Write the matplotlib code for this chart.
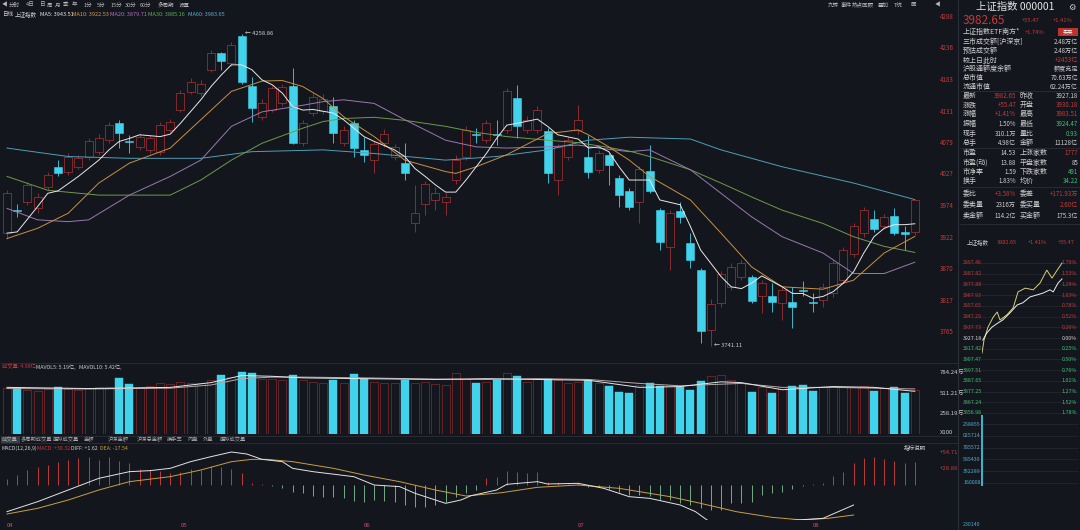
import matplotlib
matplotlib.use("Agg")
import matplotlib.pyplot as plt

plt.rcParams['font.family'] = ['Noto Sans CJK SC', 'DejaVu Sans']

W, H = 1080, 530
BG = '#13161d'
RED = '#c23b3b'
CRED = '#a03032'
CYAN = '#41d3ec'
GREEN = '#3cc070'
TXT = '#cfcfcf'
LINE = '#2a2e37'

# ---- daily candles (index, 90 trading days) ----
opens = [3928, 3967, 3980, 3969, 4005, 4038, 4030, 4038, 4055, 4063,
         4082, 4110, 4081, 4071, 4066, 4063, 4099, 4132, 4162, 4160,
         4199, 4227, 4210, 4255, 4172, 4121, 4132, 4143, 4172, 4077,
         4127, 4130, 4138, 4077, 4110, 4066, 4050, 4077, 4055, 4044,
         3944, 3977, 3983, 3980, 4016, 4055, 4093, 4082, 4092, 4099,
         4152, 4099, 4099, 4097, 4016, 4055, 4099, 4054, 4033, 4058,
         4019, 3997, 3980, 4031, 3966, 3905, 3964, 3912, 3867, 3767,
         3812, 3839, 3856, 3855, 3823, 3824, 3812, 3813, 3834, 3814,
         3817, 3828, 3850, 3894, 3928, 3951, 3939, 3956, 3930, 3930.18]
highs = [4000, 3977, 4012, 3995, 4030, 4049, 4060, 4058, 4085, 4092,
         4112, 4116, 4091, 4093, 4090, 4112, 4118, 4165, 4185, 4182,
         4232, 4229, 4245, 4258.86, 4187, 4150, 4172, 4175, 4201, 4115,
         4160, 4158, 4154, 4105, 4115, 4088, 4080, 4100, 4076, 4077,
         4008, 4015, 4005, 3994, 4058, 4105, 4102, 4116, 4116, 4168,
         4174, 4122, 4138, 4102, 4076, 4088, 4140, 4091, 4065, 4060,
         4024, 4002, 4040, 4074, 3970, 3966, 3980, 3928, 3870, 3818,
         3866, 3878, 3883, 3859, 3850, 3845, 3840, 3839, 3848, 3828,
         3845, 3883, 3905, 3944, 3972, 3966, 3960, 3969, 3939, 3983.51]
lows = [3919, 3955, 3975, 3962, 4000, 4022, 4025, 4034, 4050, 4058,
        4078, 4069, 4060, 4066, 4060, 4058, 4095, 4128, 4158, 4155,
        4195, 4199, 4205, 4175, 4113, 4115, 4128, 4138, 4075, 4072,
        4122, 4125, 4077, 4072, 4055, 4046, 4028, 4070, 4050, 4016,
        3930, 3958, 3966, 3958, 4010, 4050, 4077, 4077, 4074, 4094,
        4085, 4094, 4094, 4011, 3991, 4050, 4093, 4019, 4028, 4008,
        3972, 3966, 3944, 3994, 3900, 3867, 3944, 3870, 3745, 3741.11,
        3805, 3833, 3850, 3812, 3795, 3798, 3784, 3770, 3823, 3798,
        3806, 3822, 3845, 3889, 3922, 3930, 3935, 3925, 3900, 3924.47]
closes = [3994, 3965, 4008, 3988, 4024, 4027, 4055, 4052, 4080, 4085,
          4107, 4094, 4079, 4088, 4085, 4107, 4113, 4160, 4179, 4176,
          4226, 4214, 4240, 4178, 4135, 4143, 4168, 4170, 4077, 4110,
          4154, 4150, 4094, 4099, 4069, 4058, 4075, 4093, 4071, 4027,
          3961, 4010, 3994, 3988, 4049, 4099, 4091, 4110, 4090, 4163,
          4106, 4116, 4132, 4027, 4071, 4082, 4116, 4029, 4060, 4041,
          3991, 3971, 4035, 3997, 3914, 3961, 3955, 3883, 3765, 3811,
          3861, 3872, 3878, 3816, 3845, 3814, 3834, 3806, 3832, 3812,
          3839, 3878, 3900, 3939, 3966, 3934, 3955, 3928, 3927.18, 3982.65]
volumes = [580, 582, 560, 540, 570, 595, 575, 560, 580, 590,
           600, 708, 632, 600, 610, 640, 630, 660, 650, 640,
           680, 746, 720, 784, 772, 690, 700, 680, 752, 680,
           660, 650, 683, 650, 759, 696, 660, 650, 640, 683,
           650, 660, 630, 620, 770, 690, 645, 660, 683, 770,
           734, 660, 690, 696, 680, 650, 660, 683, 640, 607,
           531, 519, 620, 645, 607, 620, 595, 557, 670, 740,
           745, 680, 640, 531, 600, 519, 590, 607, 620, 544,
           590, 610, 600, 600, 610, 544, 580, 595, 519, 560]

# moving averages (index, value)
ma5_idx = [0, 1, 3, 4, 5, 7, 9, 10, 11, 12, 13, 15, 16, 17, 19, 20, 21, 22, 23, 24,
           25, 26, 27, 28, 29, 30, 32, 33, 35, 36, 38, 39, 40, 41, 42, 43, 44, 45, 46, 47,
           48, 49, 50, 52, 53, 54, 56, 57, 58, 59, 60, 61, 63, 64, 66, 67, 68, 69, 70, 71,
           72, 73, 74, 75, 76, 77, 78, 79, 80, 81, 82, 83, 84, 85, 86, 87, 88, 89]
ma5_val = [3928, 3930, 3972, 3994, 3998, 4022, 4049, 4066, 4080, 4085, 4091, 4088, 4092, 4110, 4149, 4171, 4190, 4207, 4207, 4199,
           4182, 4174, 4160, 4138, 4132, 4133, 4127, 4116, 4088, 4080, 4066, 4055, 4035, 4022, 4008, 3996, 3996, 4016, 4038, 4060,
           4085, 4107, 4110, 4117, 4105, 4091, 4084, 4069, 4071, 4063, 4038, 4016, 4016, 3983, 3975, 3939, 3900, 3878, 3856, 3839,
           3836, 3845, 3857, 3848, 3839, 3828, 3828, 3820, 3823, 3831, 3845, 3864, 3895, 3922, 3936, 3942, 3942, 3943.5]
ma10_idx = [0, 3, 6, 9, 12, 16, 19, 22, 25, 27, 29, 31, 33, 36, 39, 43, 44, 46, 49, 53,
            56, 57, 59, 61, 63, 67, 70, 73, 76, 80, 83, 86, 89]
ma10_val = [3919, 3936, 3961, 4011, 4044, 4069, 4116, 4163, 4180, 4181, 4171, 4151, 4121, 4088, 4049, 4030, 4027, 4038, 4058, 4093,
            4099, 4091, 4071, 4049, 4022, 3983, 3928, 3872, 3839, 3835, 3850, 3895, 3922.5]
ma20_idx = [0, 3, 6, 8, 12, 16, 19, 22, 25, 29, 31, 33, 36, 39, 43, 46, 49, 53, 56, 58,
            61, 63, 67, 70, 73, 76, 80, 83, 86, 89]
ma20_val = [3969, 3950, 3947, 3950, 3991, 4022, 4049, 4105, 4129, 4140, 4146, 4149, 4143, 4116, 4082, 4071, 4069, 4071, 4074, 4069,
            4063, 4066, 4033, 3994, 3955, 3922, 3895, 3861, 3861, 3879.7]
ma30_idx = [0, 4, 9, 16, 19, 22, 25, 29, 31, 33, 36, 39, 43, 46, 49, 53, 56, 59, 61, 63,
            67, 70, 73, 76, 80, 83, 86, 89]
ma30_val = [4022, 3999, 3991, 3991, 4016, 4049, 4077, 4102, 4113, 4118, 4120, 4115, 4105, 4095, 4088, 4082, 4078, 4070, 4064, 4055,
            4033, 4011, 3988, 3966, 3944, 3922, 3906, 3896]
ma60_idx = [0, 6, 12, 19, 24, 31, 36, 43, 48, 53, 57, 61, 67, 70, 76, 83, 89]
ma60_val = [4069, 4055, 4052, 4052, 4063, 4066, 4060, 4049, 4055, 4066, 4082, 4087, 4084, 4066, 4038, 4011, 3983.65]

mavol_idx = [0, 8, 16, 20, 23, 26, 29, 35, 42, 47, 52, 57, 62, 66, 70, 72, 76, 81, 85, 89]
mavol5 = [590, 575, 590, 650, 740, 730, 710, 700, 690, 700, 690, 680, 590, 600, 660, 650, 560, 600, 590, 540]
mavol10 = [575, 570, 580, 620, 700, 720, 720, 710, 695, 690, 700, 690, 640, 610, 630, 640, 590, 590, 580, 570]

# MACD
diff_idx = [0, 3, 6, 9, 12, 14, 16, 18, 20, 22, 23.5, 25, 27, 28, 30, 34, 36, 38.5, 40, 42,
            43, 44.5, 45.5, 48, 49, 52, 53, 56, 58.5, 61, 63, 64.5, 66, 67.5, 69, 71, 73, 76.5, 80, 81.5, 83]
diff_val = [-44.8, -28, -8.4, 11.2, 22.4, 24.1, 28, 39.2, 47.6, 55.4, 52.1, 43.1, 39.2, 28, 22.4, 14, 0, -2.8, -14, -25.2,
            -30.8, -25.2, -18, -8.4, 1.1, 5.6, 1.7, 2.8, -5.6, -19.6, -22.4, -28, -33.6, -44.8, -63.3, -63.3, -61.6, -59.9, -56, -44.8, -33.6]
dea_idx = [0, 3, 6, 9, 12, 16, 19, 22, 24, 25.5, 28, 32, 35, 38.5, 42, 45, 48.5, 52, 56, 60,
           65, 68, 71.5, 75, 78, 80.5, 83]
dea_val = [-48.7, -39.2, -25.2, -8.4, 5.6, 14, 25.2, 39.2, 43.1, 43.1, 39.2, 28, 16.8, 5.6, -8.4, -18.5, -12.9, -3.9, 0, -5.6,
           -19.6, -30.8, -44.8, -54.3, -58.8, -56, -50.4]
macd_hist = [9.5, 16.8, 25, 29.7, 33.6, 39.2, 42, 44.8, 46.5, 42,
             47.6, 40.9, 36.4, 26.3, 25.2, 24.1, 20.7, 22.4, 26.3, 25.2,
             31.9, 29.7, 26.3, 19.6, 3.9, 1.7, -1.1, -5.6, -11.2, -14,
             -18.5, -19.6, -20.7, -22.4, -26.3, -28, -25.2, -26.3, -28, -33.6,
             -36.4, -37.5, -33.6, -28, -19.6, -14, -8.4, 11.2, 14, 24.1,
             22.4, 20.7, 22.4, 5.6, 2.8, 1.7, 3.9, -2.8, -3.9, -7.3,
             -11.2, -16.8, -16.8, -18.5, -25.2, -25.2, -30.8, -33.6, -39.2, -42,
             -42, -30.8, -30.8, -28, -16.8, -14, -11.2, -7.3, -1.7, 1.1,
             3.9, 15.1, 22.4, 36.4, 44.8, 46.5, 43.1, 40.9, 36.4, 39.2]

price_ticks = [4288, 4236, 4183, 4131, 4079, 4027, 3974, 3922, 3870, 3817, 3765]
vol_tick_pos = [784, 519, 266, 25]
vol_tick_labels = ['784.24万', '511.21万', '258.19万', 'X100']
macd_tick_pos = [54.71, 28.86]
macd_tick_labels = ['+54.71', '+28.86']
month_pos = [0, 17, 35, 56, 79]
month_labels = ['04', '05', '06', '07', '08']

# intraday mini chart (minutes, % change)
avg_t = [0, 5, 15, 28, 38, 45, 62, 78, 90, 108, 128, 145, 162, 175, 188, 200]
avg_pct = [-0.36, -0.05, 0.26, 0.50, 0.62, 0.43, 0.55, 0.72, 1.10, 1.19, 1.15, 1.31, 1.62, 1.43, 1.62, 1.79]
idx_t = [2, 12, 25, 40, 52, 70, 88, 102, 120, 138, 152, 170, 178, 190, 200]
idx_pct = [-0.05, 0.12, 0.26, 0.36, 0.43, 0.60, 0.79, 0.84, 0.98, 1.03, 1.07, 1.15, 1.10, 1.31, 1.41]
mini_price_labels = ['3997.46', '3987.82', '3977.88', '3967.93', '3957.65', '3947.29', '3937.73', '3927.18',
                     '3917.42', '3907.47', '3897.51', '3887.65', '3877.25', '3867.24', '3856.98']
mini_pct_labels = ['1.79%', '1.53%', '1.29%', '1.03%', '0.78%', '0.52%', '0.26%', '0.00%',
                   '0.25%', '0.50%', '0.76%', '1.01%', '1.27%', '1.52%', '1.78%']
mini_vol_labels = ['258855', '025714', '785572', '585430', '352289', '160008']

fig = plt.figure(figsize=(W / 100, H / 100), dpi=100, facecolor=BG)


def px_axes(x0, y0, x1, y1):
    ax = fig.add_axes([x0 / W, 1 - y1 / H, (x1 - x0) / W, (y1 - y0) / H])
    ax.set_facecolor(BG)
    for s in ax.spines.values():
        s.set_visible(False)
    ax.set_xticks([])
    ax.set_yticks([])
    return ax


n = len(closes)
xs = list(range(n))
xl = (-7 / 10.2, (930 - 7) / 10.2)
up = [c >= o for o, c in zip(opens, closes)]

# ---- main price chart ----
ax = px_axes(0, 12, 930, 362)
ax.set_xlim(*xl)
ax.set_ylim(3714.3, 4294.6)
for i in xs:
    col = CRED if up[i] else CYAN
    ax.vlines(i, lows[i], highs[i], color=col, lw=0.6, zorder=2)
    lo, hi = min(opens[i], closes[i]), max(opens[i], closes[i])
    h = max(hi - lo, 1.5)
    if up[i]:
        ax.bar(i, h, bottom=lo, width=0.78, facecolor=BG, edgecolor=CRED, lw=0.55, zorder=3)
    else:
        ax.bar(i, h, bottom=lo, width=0.78, facecolor=CYAN, edgecolor=CYAN, lw=0.4, zorder=3)
ax.plot(ma60_idx, ma60_val, color='#4f9fb8', lw=0.7, zorder=4)
ax.plot(ma30_idx, ma30_val, color='#6f9a4a', lw=0.7, zorder=4)
ax.plot(ma20_idx, ma20_val, color='#9a78b0', lw=0.7, zorder=4)
ax.plot(ma10_idx, ma10_val, color='#c99040', lw=0.7, zorder=4)
ax.plot(ma5_idx, ma5_val, color='#e8e8e8', lw=0.7, zorder=5)
ax.text(23.35, 4258.86, '← 4258.86', color=TXT, fontsize=4.2, va='center', ha='left')
ax.text(69.35, 3741.11, '← 3741.11', color=TXT, fontsize=4.2, va='center', ha='left')
ax.yaxis.tick_right()
ax.set_yticks(price_ticks)
ax.tick_params(axis='y', length=0, pad=7, labelsize=4.5, labelcolor=RED)

# ---- volume ----
axv = px_axes(0, 368, 930, 434)
axv.set_xlim(*xl)
axv.set_ylim(0, 835)
for i in xs:
    if up[i]:
        axv.bar(i, volumes[i], width=0.78, facecolor=BG, edgecolor='#862a2a', lw=0.5)
    else:
        axv.bar(i, volumes[i], width=0.78, facecolor=CYAN, edgecolor=CYAN, lw=0.3)
axv.plot(mavol_idx, mavol10, color='#b9a9a9', lw=0.7)
axv.plot(mavol_idx, mavol5, color='#e6e6e6', lw=0.7)
axv.yaxis.tick_right()
axv.set_yticks(vol_tick_pos)
axv.set_yticklabels(vol_tick_labels)
axv.tick_params(axis='y', length=0, pad=7, labelsize=4.3, labelcolor=TXT)

# ---- MACD ----
axm = px_axes(0, 445, 930, 520)
axm.set_xlim(*xl)
axm.set_ylim(-58.8, 67.2)
for i in xs:
    axm.vlines(i, 0, macd_hist[i], color=RED if macd_hist[i] >= 0 else '#6fae86', lw=0.7)
axm.plot(dea_idx, dea_val, color='#c8a040', lw=0.7)
axm.plot(diff_idx, diff_val, color='#e4e4e4', lw=0.7)
axm.yaxis.tick_right()
axm.set_yticks(macd_tick_pos)
axm.set_yticklabels(macd_tick_labels)
axm.tick_params(axis='y', length=0, pad=7, labelsize=4.3, labelcolor=RED)
axm.set_xticks(month_pos)
axm.set_xticklabels(month_labels)
axm.tick_params(axis='x', length=0, pad=2, labelsize=4.3, labelcolor='#c8506a')
for lb in axm.get_xticklabels():
    lb.set_ha('left')

# ---- intraday mini chart ----
axi = px_axes(982, 258, 1078, 418)
axi.set_xlim(0, 240)
axi.set_ylim(-1.909, 1.909)
axi.patch.set_alpha(0)
axi.set_zorder(5)
axi.plot(avg_t, avg_pct, color='#d8d070', lw=0.7, zorder=3)
axi.plot(idx_t, idx_pct, color='#eeeeee', lw=0.7, zorder=3)

# ---- overlay for panel texts ----
ov = fig.add_axes([0, 0, 1, 1])
ov.set_zorder(4)
ov.set_xlim(0, W)
ov.set_ylim(H, 0)
ov.axis('off')
ov.patch.set_visible(False)


def t(x, y, s, c=TXT, fs=4.3, ha='left', **kw):
    ov.text(x, y, s, color=c, fontsize=fs, ha=ha, va='center', **kw)


# separators
ov.vlines(958, 0, H, color=LINE, lw=0.8)
for yy in (363, 436, 443):
    ov.hlines(yy, 0, 958, color=LINE, lw=0.6)

# toolbar
for s, x in [('◀', 4), ('分时', 14), ('4日', 30), ('日', 42), ('周', 50), ('月', 58), ('季', 66), ('年', 74),
             ('1分', 88), ('5分', 101), ('15分', 116), ('30分', 131), ('60分', 146), ('多周期', 166), ('设置', 184)]:
    t(x, 5, s, '#b8b8b8', 4.0, 'center')
for s, x in [('九转', 833), ('事件', 846), ('热点回顾', 863), ('叠加', 883), ('T统', 898), ('画', 913), ('◀', 937)]:
    t(x, 5, s, '#b8b8b8', 4.0, 'center')

# legend row
for s, x, c in [('日线', 2, TXT), ('上证指数', 15, TXT), ('MA5: 3943.51', 40, '#e8e8e8'),
                ('MA10: 3922.53', 72, '#d8a040'), ('MA20: 3879.71', 110, '#b070c0'),
                ('MA30: 3885.16', 148, '#5cb050'), ('MA60: 3983.65', 188, '#5ab0d0')]:
    t(x, 14, s, c, 4.0)

# volume header
t(2, 367, '成交量: 4.98亿', RED, 3.8)
t(36, 367, 'MAVOL5: 5.19亿,', TXT, 3.8)
t(79, 367, 'MAVOL10: 5.42亿,', TXT, 3.8)

# tabs
ov.add_patch(plt.Rectangle((1, 436), 19, 7, color='#3a3e47', lw=0))
for s, x in [('成交量', 10), ('多周期成交量', 36), ('虚拟成交量', 66), ('金额', 89), ('沪深金额', 118),
             ('沪深总金额', 150), ('换手率', 175), ('内盘', 193), ('外盘', 208), ('虚拟成交量', 233)]:
    t(x, 439.5, s, '#a8a8a8', 3.8, 'center')

# MACD header
t(2, 448, 'MACD(12,26,9)', TXT, 3.8)
t(37, 448, 'MACD: +38.32', RED, 3.8)
t(71, 448, 'DIFF: +1.62', TXT, 3.8)
t(100, 448, 'DEA: -17.54', '#c8a040', 3.8)
t(915, 447, '指标说明', TXT, 4.0, 'center')

# right panel header
t(1015, 7, '上证指数 000001', '#e6e6e6', 7.5, 'center')
t(1072, 7, '⚙', '#d0d0d0', 6, 'center')
t(963, 20, '3982.65', RED, 8.5)
t(1022, 20, '+55.47', RED, 4.2)
t(1053, 20, '+1.41%', RED, 4.2)

info_labels = ['上证指数ETF南方*', '三市成交额[沪深京]', '预估成交额', '较上日此时', '沪股通额度余额', '总市值', '流通市值']
info_values = ['+1.74%', '2.48万亿', '2.48万亿', '+2453亿', '额度充足', '70.63万亿', '62.24万亿']
info_y = [32, 42, 51, 60, 69, 78, 87]
for lab, val, yy in zip(info_labels, info_values, info_y):
    t(963, yy, lab, TXT, 5.0)
    if yy == 32:
        t(1045, yy, val, RED, 4.2, 'right')
        ov.add_patch(plt.Rectangle((1058, 28), 20, 8, color='#c0302c', lw=0))
        t(1068, yy, '买卖', '#ffffff', 3.8, 'center')
    else:
        t(1078, yy, val, RED if val.startswith('+') else TXT, 4.4, 'right')

q_left_labels = ['最新', '涨跌', '涨幅', '振幅', '现手', '总手', '市盈', '市盈(动)', '市净率', '换手', '委比', '委卖量', '卖金额']
q_left_values = ['3982.65', '+55.47', '+1.41%', '1.50%', '310.1万', '4.98亿', '14.53', '13.88', '1.59', '1.83%', '+3.58%', '2316万', '114.2亿']
q_right_labels = ['昨收', '开盘', '最高', '最低', '量比', '金额', '上涨家数', '平盘家数', '下跌家数', '均价', '委差', '委买量', '买金额']
q_right_values = ['3927.18', '3930.18', '3983.51', '3924.47', '0.93', '11128亿', '1777', '85', '491', '34.22', '+171.93万', '2.60亿', '175.3亿']
q_y = [96, 105, 114, 124, 134, 143, 153, 163, 172, 181, 194, 205, 216]
left_red = {'3982.65', '+55.47', '+1.41%', '+3.58%'}
right_col = {'3930.18': RED, '3983.51': RED, '3924.47': GREEN, '0.93': GREEN, '1777': RED,
             '491': GREEN, '34.22': GREEN, '+171.93万': RED, '2.60亿': RED}
for a, b, c, d, yy in zip(q_left_labels, q_left_values, q_right_labels, q_right_values, q_y):
    t(963, yy, a, TXT, 5.0)
    t(1016, yy, b, RED if b in left_red else TXT, 4.4, 'right')
    t(1020, yy, c, TXT, 5.0)
    t(1078, yy, d, right_col.get(d, TXT), 4.4, 'right')
for yy in (91, 148, 187, 224):
    ov.hlines(yy, 960, W, color=LINE, lw=0.6)

# mini chart header and grid
t(967, 242, '上证指数', TXT, 4.0)
t(997, 242, '3982.65', RED, 4.0)
t(1028, 242, '+1.41%', RED, 4.0)
t(1058, 242, '+55.47', RED, 4.0)
for k, (pl, ql) in enumerate(zip(mini_price_labels, mini_pct_labels)):
    yy = 263 + k * 150 / 14
    col = RED if k < 7 else (TXT if k == 7 else GREEN)
    ov.hlines(yy, 962, 1078, color='#262a33', lw=0.5)
    t(963, yy, pl, col, 3.8)
    t(1077, yy, ql, col, 3.8, 'right')
for k, vl in enumerate(mini_vol_labels):
    yy = 424 + k * 11.8
    ov.hlines(yy, 962, 1078, color='#262a33', lw=0.5)
    t(963, yy, vl, '#4aa8c8', 3.8)
t(963, 525, '230140', '#4aa8c8', 3.8)
ov.vlines(982, 415, 486, color=CYAN, lw=1.2)

fig.savefig('out.png', dpi=100, facecolor=BG)
